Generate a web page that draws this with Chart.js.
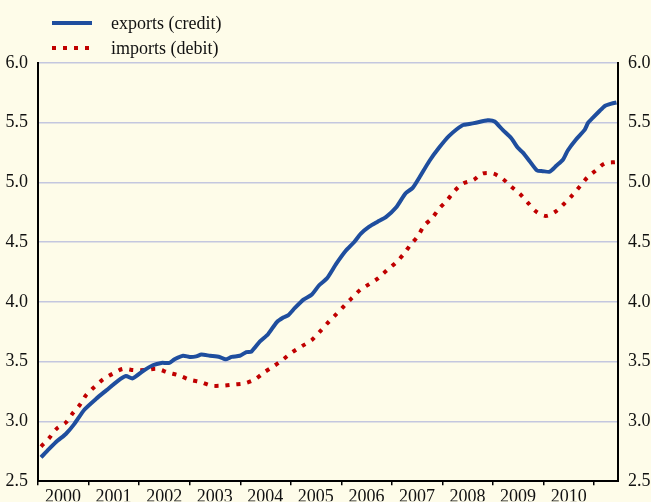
<!DOCTYPE html>
<html>
<head>
<meta charset="utf-8">
<script src="https://cdn.jsdelivr.net/npm/chart.js@4"></script>
<style>
  body { margin: 0; background: #fefce9; }
  #wrap { position: relative; width: 651px; height: 502px; background: #fefce9; overflow: hidden; }
  canvas { position: absolute; left: 0; top: 0; }
  .key { position: absolute; font-family: "Liberation Serif", "Times New Roman", serif; font-size: 18px; line-height: 20px; color: #111; white-space: nowrap; }
  .swatch { position: absolute; left: 52px; width: 40px; height: 4px; }
  #swExports { top: 21px; background: #1f4e9e; }
  #swImports { top: 46px; background: repeating-linear-gradient(to right, #c00000 0 4px, transparent 4px 11px); }
</style>
</head>
<body>
<div id="wrap">
  <canvas id="tradeChart" width="651" height="502"></canvas>
  <div class="swatch" id="swExports"></div>
  <div class="key" style="left:111px; top:13px;">exports (credit)</div>
  <div class="swatch" id="swImports"></div>
  <div class="key" style="left:111px; top:38px;">imports (debit)</div>
</div>
<script>
// year boundaries for the tick marks; labels sit in the middle of each year
var yearTicks = [2000, 2001, 2002, 2003, 2004, 2005, 2006, 2007, 2008, 2009, 2010, 2011];
var yearLabels = ['2000', '2001', '2002', '2003', '2004', '2005', '2006', '2007', '2008', '2009', '2010'];

var exportDates = [
    2000.06, 2000.22, 2000.39, 2000.55, 2000.72, 2000.92, 2001.15, 2001.35, 2001.58, 2001.74,
    2001.87, 2002.07, 2002.27, 2002.44, 2002.60, 2002.70, 2002.87, 2003.00, 2003.13, 2003.23,
    2003.40, 2003.59, 2003.71, 2003.83, 2003.99, 2004.12, 2004.22, 2004.39, 2004.55, 2004.72,
    2004.85, 2004.95, 2005.08, 2005.25, 2005.41, 2005.56, 2005.72, 2005.90, 2006.09, 2006.25,
    2006.38, 2006.55, 2006.71, 2006.88, 2007.08, 2007.27, 2007.41, 2007.54, 2007.74, 2007.93,
    2008.13, 2008.40, 2008.53, 2008.66, 2008.89, 2009.03, 2009.19, 2009.36, 2009.49, 2009.59,
    2009.72, 2009.87, 2009.98, 2010.12, 2010.25, 2010.38, 2010.48, 2010.64, 2010.81, 2010.88,
    2010.97, 2011.11, 2011.21, 2011.34, 2011.44
];
var exportValues = [
    2.70, 2.77, 2.84, 2.895, 2.98, 3.10, 3.19, 3.26, 3.34, 3.38,
    3.36, 3.42, 3.47, 3.49, 3.49, 3.52, 3.55, 3.54, 3.545, 3.56,
    3.55, 3.54, 3.52, 3.54, 3.55, 3.58, 3.585, 3.67, 3.73, 3.83,
    3.87, 3.89, 3.95, 4.02, 4.06, 4.14, 4.20, 4.32, 4.43, 4.50,
    4.57, 4.63, 4.67, 4.71, 4.79, 4.91, 4.955, 5.04, 5.18, 5.29,
    5.39, 5.48, 5.49, 5.50, 5.52, 5.51, 5.44, 5.37, 5.29, 5.25,
    5.18, 5.10, 5.095, 5.09, 5.14, 5.19, 5.27, 5.36, 5.44, 5.50,
    5.54, 5.60, 5.64, 5.66, 5.67
];

var importDates = [
    2000.06, 2000.22, 2000.37, 2000.55, 2000.69, 2000.83, 2000.95, 2001.12, 2001.28, 2001.48,
    2001.68, 2001.89, 2002.12, 2002.35, 2002.57, 2002.79, 2003.00, 2003.22, 2003.43, 2003.66,
    2003.88, 2004.09, 2004.30, 2004.47, 2004.67, 2004.85, 2005.03, 2005.22, 2005.41, 2005.57,
    2005.72, 2005.88, 2006.04, 2006.20, 2006.37, 2006.55, 2006.73, 2006.91, 2007.08, 2007.23,
    2007.37, 2007.51, 2007.64, 2007.79, 2007.93, 2008.09, 2008.23, 2008.40, 2008.61, 2008.79,
    2009.00, 2009.19, 2009.36, 2009.53, 2009.69, 2009.84, 2010.04, 2010.23, 2010.40, 2010.56,
    2010.71, 2010.86, 2011.03, 2011.21, 2011.42
];
var importValues = [
    2.79, 2.86, 2.94, 2.99, 3.07, 3.14, 3.22, 3.29, 3.35, 3.40,
    3.44, 3.43, 3.43, 3.44, 3.41, 3.385, 3.35, 3.33, 3.30, 3.30,
    3.31, 3.32, 3.355, 3.41, 3.465, 3.52, 3.58, 3.63, 3.68, 3.75,
    3.82, 3.89, 3.96, 4.03, 4.10, 4.15, 4.20, 4.27, 4.33, 4.40,
    4.48, 4.55, 4.64, 4.70, 4.78, 4.85, 4.925, 4.99, 5.02, 5.075,
    5.075, 5.03, 4.965, 4.905, 4.83, 4.76, 4.72, 4.755, 4.82, 4.89,
    4.965, 5.04, 5.10, 5.16, 5.17
];

function toPoints(dates, values) {
    return dates.map(function (d, i) { return { x: d, y: values[i] }; });
}

var labelFont = { family: '"Liberation Serif", "Times New Roman", serif', size: 18 };
var gridColor = '#c4c7df';

function yTicks() {
    return {
        stepSize: 0.5,
        padding: 10,
        color: '#111',
        font: labelFont,
        callback: function (v) { return v.toFixed(1); }
    };
}

new Chart(document.getElementById('tradeChart'), {
    type: 'line',
    data: {
        datasets: [
            {
                label: 'exports (credit)',
                data: toPoints(exportDates, exportValues),
                borderColor: '#1f4e9e',
                borderWidth: 4,
                pointRadius: 0,
                tension: 0.2
            },
            {
                label: 'imports (debit)',
                data: toPoints(importDates, importValues),
                borderColor: '#c00000',
                borderWidth: 4,
                borderDash: [4, 7],
                borderCapStyle: 'butt',
                pointRadius: 0,
                tension: 0.3
            }
        ]
    },
    options: {
        responsive: false,
        devicePixelRatio: 1,
        animation: false,
        layout: { padding: { top: 63, left: 0, right: 0, bottom: 0 } },
        plugins: {
            legend: { display: false },
            tooltip: { enabled: false }
        },
        scales: {
            x: {
                type: 'linear',
                min: 2000,
                max: 2011.47,
                afterBuildTicks: function (scale) {
                    scale.ticks = yearTicks.map(function (v) { return { value: v }; });
                },
                afterFit: function (scale) { scale.height = 20; },
                ticks: {
                    autoSkip: false,
                    maxRotation: 0,
                    labelOffset: 25,
                    padding: 1,
                    color: '#111',
                    font: labelFont,
                    callback: function (v, i) { return yearLabels[i] || ''; }
                },
                grid: { drawOnChartArea: false, drawTicks: true, tickLength: 4, color: '#000', lineWidth: 1.5 },
                border: { color: '#000', width: 2 }
            },
            y: {
                position: 'left',
                min: 2.5,
                max: 6.0,
                afterFit: function (scale) { scale.width = 38; },
                ticks: yTicks(),
                grid: { color: gridColor, lineWidth: 1.5, drawTicks: false },
                border: { color: '#000', width: 2 }
            },
            y2: {
                position: 'right',
                min: 2.5,
                max: 6.0,
                afterFit: function (scale) { scale.width = 33; },
                ticks: yTicks(),
                grid: { drawOnChartArea: false, drawTicks: false },
                border: { color: '#000', width: 2 }
            }
        }
    }
});
</script>
</body>
</html>
